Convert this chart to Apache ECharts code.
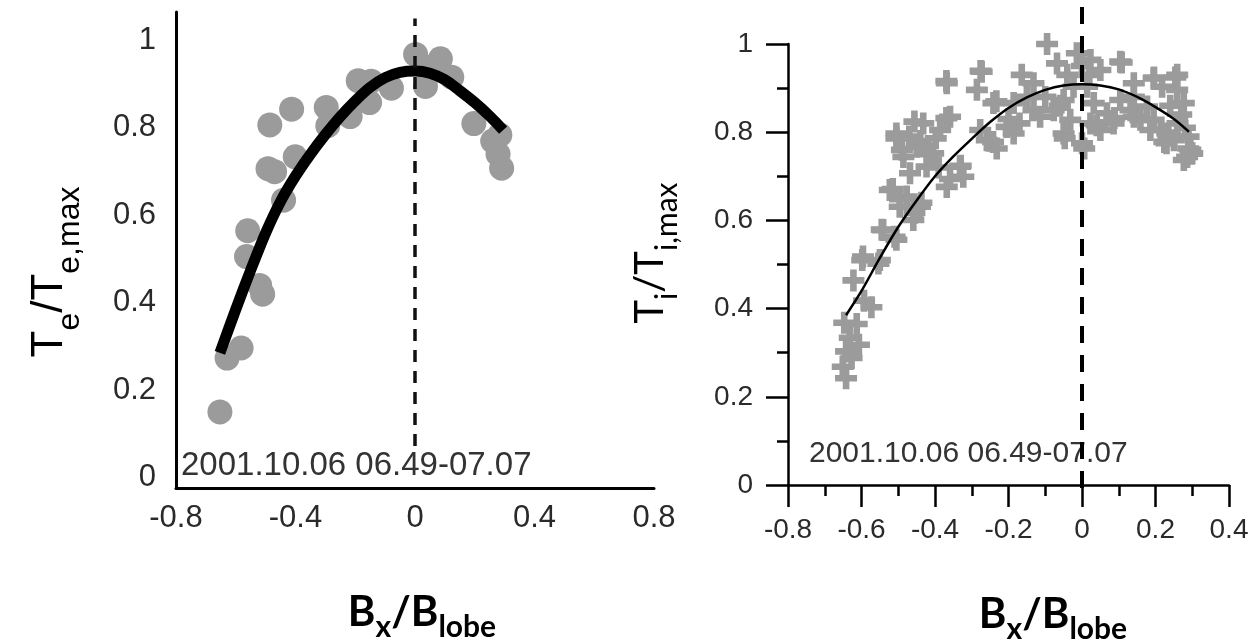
<!DOCTYPE html>
<html><head><meta charset="utf-8">
<script src="https://cdn.jsdelivr.net/npm/echarts@6/dist/echarts.min.js"></script>
<style>html,body{margin:0;padding:0;background:#fff}#c{width:1260px;height:644px}</style>
</head><body><div id="c"></div>
<script>
// ---- data ----
const leftYTicks = [0, 0.2, 0.4, 0.6, 0.8, 1];
const leftXTicks = [-0.8, -0.4, 0, 0.4, 0.8];
const rightYTicks = [0, 0.2, 0.4, 0.6, 0.8, 1];
const rightXTicks = [-0.8, -0.6, -0.4, -0.2, 0, 0.2, 0.4];
const dateLabel = '2001.10.06 06.49-07.07';

const electronPoints = [
  [-0.653,0.151],[-0.629,0.274],[-0.582,0.297],[-0.52,0.44],[-0.51,0.42],[-0.564,0.506],
  [-0.56,0.565],[-0.44,0.635],[-0.492,0.707],[-0.401,0.734],[-0.47,0.70],[-0.486,0.807],
  [-0.413,0.843],[-0.297,0.847],[-0.292,0.805],[-0.217,0.826],[-0.19,0.908],[-0.147,0.907],
  [-0.152,0.858],[-0.079,0.891],[0.002,0.968],[0.085,0.958],[0.045,0.938],[0.035,0.895],
  [0.123,0.916],[0.197,0.81],[0.26,0.77],[0.284,0.784],[0.278,0.74],[0.29,0.708]
];
const electronFit = [
  [-0.653,0.286],[-0.6,0.385],[-0.55,0.475],[-0.5,0.56],[-0.45,0.632],[-0.4,0.69],
  [-0.35,0.74],[-0.3,0.785],[-0.25,0.826],[-0.2,0.862],[-0.15,0.893],[-0.1,0.915],
  [-0.05,0.927],[0.0,0.93],[0.05,0.925],[0.1,0.91],[0.15,0.885],[0.2,0.858],
  [0.25,0.827],[0.295,0.795]
];
const ionPoints = [
  [-0.095,1.0],[-0.368,0.911],[-0.273,0.937],[-0.286,0.896],[-0.241,0.866],[-0.164,0.93],
  [-0.132,0.911],[-0.068,0.956],[-0.014,0.979],[0.023,0.964],[0.05,0.941],[0.104,0.96],
  [0.141,0.911],[0.195,0.922],[0.259,0.93],[0.259,0.896],[0.277,0.866],[0.218,0.903],
  [0.177,0.858],[0.141,0.835],[0.086,0.82],[0.05,0.805],[0,0.775],[-0.05,0.797],
  [-0.077,0.85],[-0.132,0.85],[-0.114,0.835],[-0.186,0.866],[-0.205,0.812],[-0.232,0.763],
  [-0.259,0.782],[-0.277,0.805],[-0.186,0.797],[0.232,0.797],[0.295,0.76],[0.286,0.744],
  [0.25,0.782],[0.186,0.805],[0.132,0.85],[0.104,0.873],[0.032,0.866],[0.014,0.903],
  [-0.023,0.903],[-0.05,0.873],[-0.032,0.828],[0.023,0.82],[0.068,0.843],[0.141,0.88],
  [0.159,0.828],[0.195,0.828],[0.3,0.752],[0.277,0.737],[0.23,0.775],[0.214,0.805],
  [-0.505,0.797],[-0.432,0.82],[-0.386,0.805],[-0.359,0.835],[-0.486,0.744],[-0.45,0.767],
  [-0.405,0.752],[-0.468,0.707],[-0.423,0.722],[-0.332,0.722],[-0.368,0.676],[-0.323,0.699],
  [-0.523,0.669],[-0.496,0.631],[-0.477,0.654],[-0.441,0.631],[-0.459,0.601],[-0.541,0.578],
  [-0.505,0.556],[-0.596,0.518],[-0.55,0.51],
  [-0.647,0.368],[-0.632,0.334],[-0.613,0.365],[-0.573,0.403],[-0.593,0.418],[-0.642,0.303],
  [-0.607,0.318],[-0.651,0.268],[-0.642,0.242],[-0.627,0.288],[-0.622,0.464],[-0.598,0.51],
  [-0.554,0.502],[-0.545,0.579],[-0.51,0.563],[-0.515,0.671],[-0.495,0.648],[-0.456,0.617],
  [-0.437,0.64],[-0.505,0.786],[-0.456,0.824],[-0.369,0.916],[-0.276,0.939],[-0.359,0.694],
  [-0.33,0.724],[-0.369,0.832],[-0.398,0.786],[-0.242,0.778],[-0.233,0.87],[0.108,0.958],
  [0.196,0.924],[0.254,0.924],[0.289,0.763],[0.298,0.751],[0.224,0.778],[-0.047,0.786],
  [0.006,0.763],[0.04,0.816],[0.088,0.832],
  [0.27,0.84],[0.28,0.81],[0.24,0.86],[0.26,0.82],[0.29,0.79],[-0.1,0.88],[-0.06,0.86],
  [-0.15,0.88],[-0.2,0.83],[-0.17,0.82],[0.0,0.95],[0.02,0.93],[-0.04,0.93],
  [-0.47,0.79],[-0.44,0.78],[-0.42,0.75],[-0.49,0.76],[-0.39,0.72]
];
const ionFit = [
  [-0.642,0.385],[-0.6,0.44],[-0.55,0.515],[-0.5,0.585],[-0.45,0.645],[-0.4,0.70],
  [-0.35,0.745],[-0.3,0.785],[-0.25,0.823],[-0.2,0.855],[-0.15,0.879],[-0.1,0.896],
  [-0.05,0.906],[0,0.909],[0.05,0.906],[0.1,0.897],[0.15,0.88],[0.2,0.857],
  [0.25,0.83],[0.291,0.801]
];
const leftZeroLine = [[0,0.073],[0,1.05]];
const rightZeroLine = [[0,-0.007],[0,1.093]];

// ---- chart ----
const fmt = v => String(+(+v).toFixed(1));
const plus = 'path://M7,0H13V7H20V13H13V20H7V13H0V7H7Z';
const chart = echarts.init(document.getElementById('c'), null, {renderer:'canvas'});
const option = {
  animation:false,
  backgroundColor:'#fff',
  grid:[
    {left:176, top:12, width:478, height:476, outerBoundsMode:'none', containLabel:false},
    {left:788, top:44, width:441, height:441, outerBoundsMode:'none', containLabel:false}
  ],
  xAxis:[
    {gridIndex:0, type:'value', min:-0.8, max:0.8,
     axisLine:{show:true, onZero:false, lineStyle:{color:'#000', width:3}},
     axisTick:{show:false}, splitLine:{show:false},
     axisLabel:{customValues:leftXTicks, formatter:fmt, fontSize:31, color:'#2a2a2a',
       fontFamily:'Liberation Sans', margin:15}},
    {gridIndex:1, type:'value', min:-0.8, max:0.4, interval:0.2,
     axisLine:{show:true, onZero:false, lineStyle:{color:'#000', width:2.5}},
     axisTick:{show:true, length:22, lineStyle:{color:'#000', width:2.5}},
     minorTick:{show:true, splitNumber:2, length:11, lineStyle:{color:'#000', width:2.5}},
     splitLine:{show:false},
     axisLabel:{customValues:rightXTicks, formatter:fmt, fontSize:28, color:'#2a2a2a',
       fontFamily:'Liberation Sans', margin:31}}
  ],
  yAxis:[
    {gridIndex:0, type:'value', min:-0.023, max:1.065,
     axisLine:{show:true, onZero:false, lineStyle:{color:'#000', width:3}},
     axisTick:{show:false}, splitLine:{show:false},
     axisLabel:{customValues:leftYTicks, formatter:fmt, fontSize:31, color:'#2a2a2a',
       fontFamily:'Liberation Sans', margin:20}},
    {gridIndex:1, type:'value', min:0, max:1, interval:0.2,
     axisLine:{show:true, onZero:false, lineStyle:{color:'#000', width:2.5}},
     axisTick:{show:true, length:22, lineStyle:{color:'#000', width:2.5}},
     minorTick:{show:true, splitNumber:2, length:11, lineStyle:{color:'#000', width:2.5}},
     splitLine:{show:false},
     axisLabel:{customValues:rightYTicks, formatter:fmt, fontSize:28, color:'#2a2a2a',
       fontFamily:'Liberation Sans', margin:35}}
  ],
  series:[
    {type:'scatter', xAxisIndex:0, yAxisIndex:0, data:electronPoints, symbol:'circle',
     symbolSize:25, itemStyle:{color:'#9b9b9b', opacity:1}, z:2, silent:true},
    {type:'line', xAxisIndex:0, yAxisIndex:0, data:electronFit, smooth:0.3, symbol:'none',
     lineStyle:{color:'#000', width:11, cap:'butt', join:'round'}, z:3, silent:true},
    {type:'line', xAxisIndex:0, yAxisIndex:0, data:leftZeroLine, symbol:'none', clip:false,
     lineStyle:{color:'#111', width:3.5, type:[12,9]}, z:4, silent:true},
    {type:'scatter', xAxisIndex:1, yAxisIndex:1, data:ionPoints, symbol:plus,
     symbolSize:22, itemStyle:{color:'#9b9b9b', opacity:1}, z:2, silent:true},
    {type:'line', xAxisIndex:1, yAxisIndex:1, data:ionFit, smooth:0.3, symbol:'none',
     lineStyle:{color:'#000', width:2.5}, z:3, silent:true},
    {type:'line', xAxisIndex:1, yAxisIndex:1, data:rightZeroLine, symbol:'none', clip:false,
     lineStyle:{color:'#000', width:4, type:[17,12]}, z:4, silent:true}
  ],
  graphic:[
    {type:'text', x:50, y:272, rotation:Math.PI/2, silent:true,
     style:{text:'{m|T}{s|e}{m|/T}{s|e,max}', align:'center', verticalAlign:'middle',
       rich:{m:{fontSize:44, fontFamily:'Liberation Sans', fill:'#000', lineHeight:72},
             s:{fontSize:32, fontFamily:'Liberation Sans', fill:'#000', verticalAlign:'bottom', lineHeight:32}}}},
    {type:'text', x:650, y:253, rotation:Math.PI/2, silent:true,
     style:{text:'{m|T}{s|i}{m|/T}{s|i,max}', align:'center', verticalAlign:'middle',
       rich:{m:{fontSize:40, fontFamily:'Lato', fill:'#000', lineHeight:64},
             s:{fontSize:30, fontFamily:'Lato', fill:'#000', verticalAlign:'bottom', lineHeight:30}}}},
    {type:'text', x:422, y:612, silent:true,
     style:{text:'{m|B}{s|x}{m|/B}{s|lobe}', align:'center', verticalAlign:'middle',
       rich:{m:{fontSize:42, fontFamily:'Lato', fontWeight:'bold', fill:'#000', lineHeight:60},
             s:{fontSize:30, fontFamily:'Lato', fontWeight:'bold', fill:'#000', verticalAlign:'bottom', lineHeight:30}}}},
    {type:'text', x:1053, y:614, silent:true,
     style:{text:'{m|B}{s|x}{m|/B}{s|lobe}', align:'center', verticalAlign:'middle',
       rich:{m:{fontSize:42, fontFamily:'Lato', fontWeight:'bold', fill:'#000', lineHeight:60},
             s:{fontSize:30, fontFamily:'Lato', fontWeight:'bold', fill:'#000', verticalAlign:'bottom', lineHeight:30}}}},
    {type:'text', x:181, y:466, silent:true,
     style:{text:dateLabel, fontSize:33, fontFamily:'Liberation Sans', fill:'#333', align:'left', verticalAlign:'middle'}},
    {type:'text', x:809, y:454, silent:true,
     style:{text:dateLabel, fontSize:30, fontFamily:'Liberation Sans', fill:'#333', align:'left', verticalAlign:'middle'}}
  ]
};
chart.setOption(option);
</script></body></html>
